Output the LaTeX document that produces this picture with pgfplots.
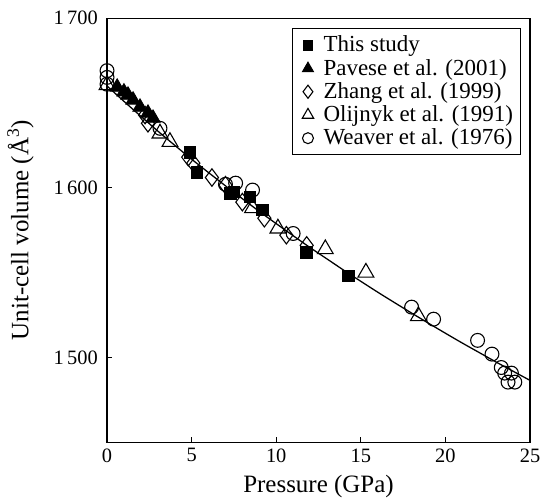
\documentclass[border=0pt]{standalone}
\usepackage{pgfplots}
\pgfplotsset{compat=1.18}
\usepackage{fontspec}
\setmainfont{Liberation Serif}
\newfontfamily\serif{Liberation Serif}

\pgfplotsset{
  legmark/.style={
    legend image code/.code={
      \path (0cm,0cm) (0.44cm,0cm);
      \draw[mark repeat=2, mark phase=2, ##1]
        plot coordinates {(0cm,0cm) (0.22cm,0cm) (0.44cm,0cm)};
    }
  }
}

\begin{document}
\begin{tikzpicture}
\begin{axis}[
  name=ax,
  scale only axis,
  width=232pt, height=232.6pt,
  xmin=0, xmax=25,
  ymin=1450, ymax=1700,
  xtick={0,5,...,25},
  ytick={1500,1600,1700},
  tick align=inside,
  xtick pos=left, ytick pos=left,
  major tick length=3pt,
  /pgf/number format/assume math mode=true,
  /pgf/number format/1000 sep={\,},
  tick label style={font=\serif\fontsize{11.2}{13}\selectfont},
  yticklabel style={xshift=-1.5pt},
  label style={font=\serif\fontsize{13.7}{16}\selectfont},
  xlabel={Pressure (GPa)},
  ylabel={Unit-cell volume (Å\textsuperscript{3})},
  ylabel shift=4pt,
  axis line style={line width=0.6pt},
  every tick/.style={line width=0.6pt, black},
  legend style={
    at={(1,1)}, anchor=north east,
    xshift=-5pt, yshift=-5.5pt,
    font=\serif\fontsize{12.6}{14}\selectfont,
    draw=black, line width=0.6pt,
    row sep=-1.5pt,
    inner xsep=2pt
  },
  legend cell align=left,
]

% fitted curve
\addplot[black, line width=0.7pt, smooth, forget plot] coordinates {
  (0,1660) (1,1650.9) (2,1642.1) (3,1633.4) (4,1625.0) (5,1616.8)
  (6,1608.9) (7,1601.1) (8,1593.5) (9,1586.0) (10,1578.8) (11,1571.7)
  (12,1564.7) (13,1558.0) (14,1551.3) (15,1544.8) (16,1538.4) (17,1532.2)
  (18,1526.1) (19,1520.1) (20,1514.2) (21,1508.4) (22,1502.8) (23,1497.2)
  (24,1491.8) (25,1486.4)
};

% This study
\addplot[only marks, legmark, mark=square*, mark size=3.2pt, mark options={black},
  legend image post style={mark size=2.6pt}] coordinates {
  (4.9,1621) (5.3,1609) (7.3,1596.5) (7.5,1597.5) (8.45,1594.5)
  (9.2,1587) (11.8,1562) (14.25,1548)
};
\addlegendentry{This study}

% Pavese et al. (2001)
\addplot[only marks, legmark, mark=triangle*, mark size=4.6pt, mark options={black},
  legend image post style={mark size=3.4pt}] coordinates {
  (0.6,1659.3) (1.0,1656.5) (1.24,1654.6) (1.54,1651.7) (1.95,1647.5)
  (2.42,1644) (2.72,1641)
};
\addlegendentry{Pavese et al. (2001)}

% Zhang et al. (1999)
\addplot[only marks, legmark, mark=diamond, mark size=4.8pt, mark options={black, fill=white, line width=0.6pt},
  legend image post style={mark size=3.6pt}] coordinates {
  (2.25,1642.8) (2.42,1638) (4.8,1618) (5.1,1614.5) (6.2,1606)
  (7.0,1601.5) (8.0,1591.5) (9.3,1582) (10.6,1572) (11.8,1566)
};
\addlegendentry{Zhang et al. (1999)}

% Olijnyk et al. (1991)
\addplot[only marks, legmark, mark=triangle, mark size=5pt, mark options={black, fill=white, line width=0.6pt},
  legend image post style={mark size=3.6pt}] coordinates {
  (0,1660.5) (3.13,1632) (3.72,1627) (8.6,1588) (10.1,1576)
  (12.9,1563.8) (15.3,1550) (18.4,1524.3)
};
\addlegendentry{Olijnyk et al. (1991)}

% Weaver et al. (1976)
\addplot[only marks, legmark, mark=o, mark size=3.8pt, mark options={black, fill=white, line width=0.6pt},
  legend image post style={mark size=3pt}] coordinates {
  (0,1669) (0,1665) (0,1661) (3.13,1635) (7.0,1602) (7.6,1602.7)
  (8.6,1598.6) (11.0,1573) (18.0,1529.6) (19.3,1522.5) (21.9,1510)
  (22.75,1501.9) (23.3,1494) (23.5,1490.7) (23.9,1490.7) (23.7,1485.4)
  (24.1,1485.4)
};
\addlegendentry{Weaver et al. (1976)}

\end{axis}
\path (ax.south west) ++(-58.7pt,-30.2pt);
\path (ax.north east) ++(9.3pt,9.9pt);
\end{tikzpicture}
\end{document}
